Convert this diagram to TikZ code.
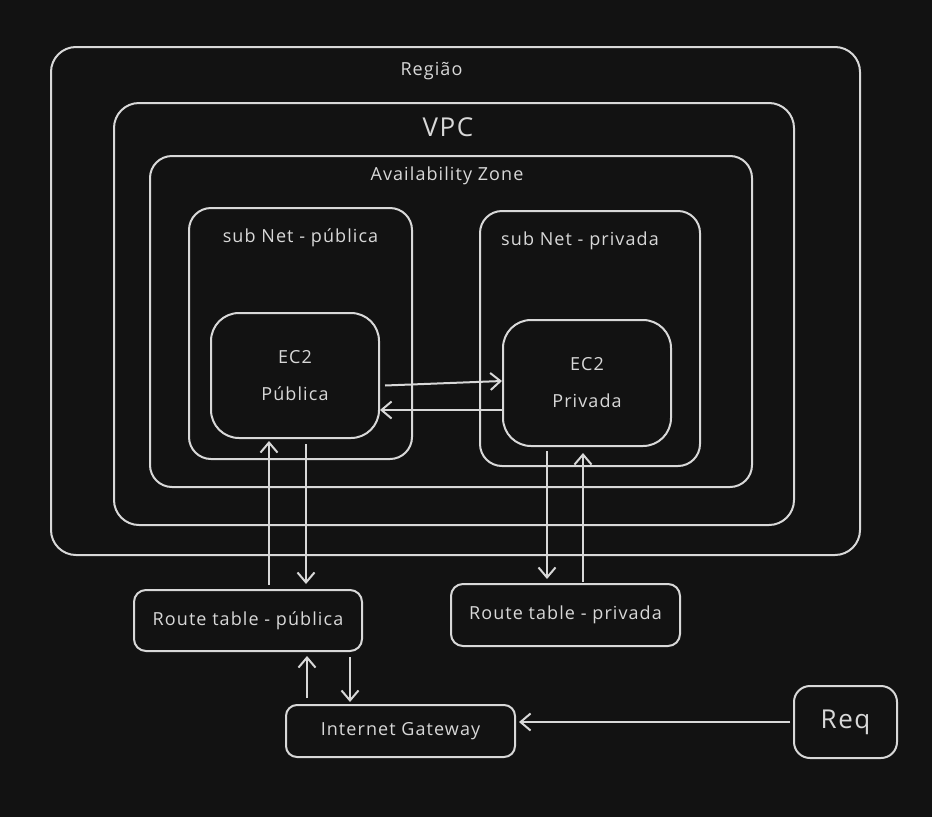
\documentclass[tikz,border=0pt]{standalone}
\usepackage{fontspec}
\setmainfont{Open Sans}[LetterSpace=6]
\usetikzlibrary{arrows.meta}
\definecolor{fundo}{HTML}{121212}
\definecolor{traco}{HTML}{D8D8D8}
\tikzset{
  caixa/.style={draw=traco, line width=2pt, inner sep=0pt, text=traco,
    font=\fontsize{18}{21}\selectfont, align=center},
  rotulo/.style={text=traco, font=\fontsize{18}{21}\selectfont},
  grande/.style={text=traco, font=\fontsize{26}{29}\selectfont},
  seta/.style={draw=traco, line width=2pt, -{Straight Barb[length=10pt,width=17pt]}},
}
\begin{document}
\begin{tikzpicture}[x=1pt,y=-1pt] % ------ Regiao / VPC / subnets ----------------
    \fill [fundo] (0,0) rectangle (932,817);
    % conteineres
    \node [caixa, rounded corners=25pt, minimum width=809pt, minimum height=508pt] (regiao) at (455.5,301) {};
    \node [caixa, rounded corners=25pt, minimum width=680pt, minimum height=422pt] (vpc) at (454,314) {};
    \node [caixa, rounded corners=22pt, minimum width=602pt, minimum height=331pt] (az) at (451,321.5) {};
    \node [caixa, rounded corners=22pt, minimum width=223pt, minimum height=251pt] (subpub) at (300.5,333.5) {};
    \node [caixa, rounded corners=22pt, minimum width=220pt, minimum height=255pt] (subpriv) at (590,338.5) {};
    \node [rotulo] (tregiao) at ([xshift=-24pt,yshift=-25pt]regiao.north) {Região};
    \node [grande] (tvpc) at ([xshift=-6pt,yshift=-25pt]vpc.north) {VPC};
    \node [rotulo] (taz) at ([xshift=-4pt,yshift=-21pt]az.north) {Availability Zone};
    \node [rotulo] (tsubpub) at ([yshift=-31pt]subpub.north) {sub Net - pública};
    \node [rotulo] (tsubpriv) at ([xshift=-10pt,yshift=-31pt]subpriv.north) {sub Net - privada};
    % instancias
    \node [caixa, rounded corners=28pt, minimum width=168pt, minimum height=125pt] (ec2pub) at (295,375.5) {EC2\\[16pt]Pública};
    \node [caixa, rounded corners=28pt, minimum width=168pt, minimum height=126pt] (ec2priv) at (587,383) {EC2\\[16pt]Privada};
    % fora da regiao
    \node [caixa, rounded corners=12pt, minimum width=228pt, minimum height=61pt] (rtpub) at (248,620.5) {Route table - pública};
    \node [caixa, rounded corners=12pt, minimum width=229pt, minimum height=62pt] (rtpriv) at (565.5,615) {Route table - privada};
    \node [caixa, rounded corners=11pt, minimum width=229pt, minimum height=52pt] (igw) at (400.5,731) {Internet Gateway};
    \node [caixa, rounded corners=16pt, minimum width=103pt, minimum height=72pt, font=\fontsize{26}{29}\selectfont] (req) at (845.5,722) {Req};
    % setas
    \draw [seta] ([xshift=5pt,yshift=-10pt]ec2pub.east) -- ([yshift=2pt]ec2priv.west);
    \draw [seta] ([yshift=-27pt]ec2priv.west) -- ([yshift=-34.5pt]ec2pub.east);
    \draw [seta] ([xshift=21pt,yshift=4pt]rtpub.north) -- ([xshift=-26pt,yshift=-2pt]ec2pub.south);
    \draw [seta] ([xshift=11pt,yshift=-5pt]ec2pub.south) -- ([xshift=58pt,yshift=5pt]rtpub.north);
    \draw [seta] ([xshift=-40pt,yshift=-4pt]ec2priv.south) -- ([xshift=-18.5pt,yshift=4pt]rtpriv.north);
    \draw [seta] ([xshift=17.5pt,yshift=1pt]rtpriv.north) -- ([xshift=-4pt,yshift=-6pt]ec2priv.south);
    \draw [seta] ([xshift=-93.5pt,yshift=6pt]igw.north) -- ([xshift=59pt,yshift=-4pt]rtpub.south);
    \draw [seta] ([xshift=102pt,yshift=-5pt]rtpub.south) -- ([xshift=-50.5pt,yshift=2pt]igw.north);
    \draw [seta] ([xshift=-3pt]req.west) -- ([xshift=3pt,yshift=9pt]igw.east);
\end{tikzpicture}
\end{document}
